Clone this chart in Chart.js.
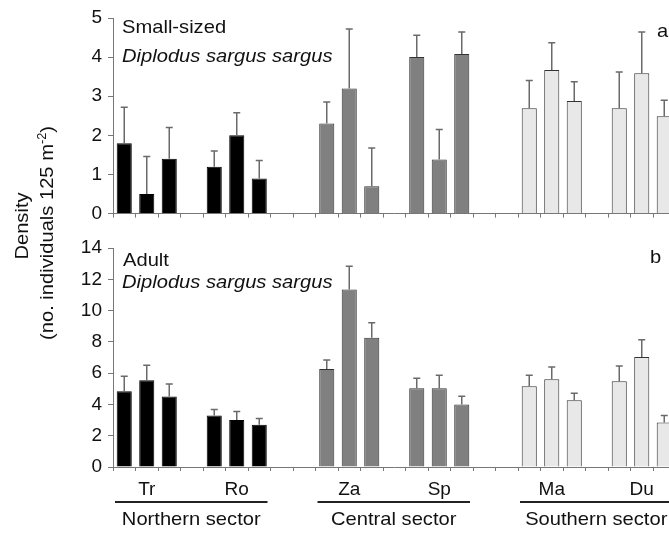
<!DOCTYPE html>
<html>
<head>
<meta charset="utf-8">
<script src="https://cdn.jsdelivr.net/npm/chart.js@4.4.1/dist/chart.umd.min.js"></script>
<style>
  html, body { margin: 0; padding: 0; background: #fff; overflow: hidden; }
  #wrap { position: relative; width: 669px; height: 533px; overflow: hidden; background: #fff; }
  canvas { position: absolute; left: 0; }
  .ylab {
    position: absolute; white-space: nowrap; color: #111;
    font: 19px 'Liberation Sans', Arial, sans-serif;
    transform: translate(-50%, -50%) rotate(-90deg) scaleX(1.06);
  }
  .ylab sup { font-size: 12px; line-height: 0; }
</style>
</head>
<body>
<div id="wrap">
  <canvas id="chart-small" width="700" height="231" style="top:0"></canvas>
  <canvas id="chart-adult" width="700" height="310" style="top:225px"></canvas>
  <div class="ylab" style="left:22px;top:226px">Density</div>
  <div class="ylab" style="left:47px;top:233px">(no. individuals 125 m<sup>-2</sup>)</div>
</div>
<script>
/* Diplodus sargus sargus density by site — two stacked bar panels. */

const siteLabels = ['Tr', 'Ro', 'Za', 'Sp', 'Ma', 'Du'];
const siteSector = [0, 0, 1, 1, 2, 2];
const gapsAfter = [1, 2, 1, 2, 1, 0];
const sectorNames = ['Northern sector', 'Central sector', 'Southern sector'];

// three bars per site, in site order
const smallMean = [1.8, 0.5, 1.4, 1.2, 2.0, 0.9, 2.3, 3.2, 0.7, 4.0, 1.38, 4.08, 2.69, 3.67, 2.88, 2.69, 3.59, 2.49];
const smallErr = [0.92, 0.96, 0.8, 0.4, 0.58, 0.46, 0.55, 1.52, 0.98, 0.56, 0.77, 0.56, 0.71, 0.7, 0.49, 0.93, 1.05, 0.41];
const adultMean = [4.84, 5.55, 4.5, 3.3, 3.0, 2.7, 6.26, 11.35, 8.26, 5.03, 5.03, 4.0, 5.16, 5.61, 4.26, 5.48, 7.03, 2.84];
const adultErr = [0.96, 0.95, 0.8, 0.37, 0.55, 0.4, 0.58, 1.49, 0.96, 0.65, 0.84, 0.52, 0.71, 0.78, 0.45, 0.97, 1.1, 0.45];

const smallTicks = [0, 1, 2, 3, 4, 5];
const adultTicks = [0, 2, 4, 6, 8, 10, 12, 14];

const FONT = "'Liberation Sans', Arial, sans-serif";
const INK = '#111';
const AXIS = '#777';
const FILL = ['#000000', '#808080', '#e8e8e8'];
const EDGE = ['#000000', '#333333', '#333333'];
const STRETCH = 1.06;

// category slots: 3 bars per site, then empty gap slots
const categories = [];
const slotBar = [];
const sectorSpan = [[null, null], [null, null], [null, null]];
siteLabels.forEach((s, i) => {
  for (let k = 0; k < 3; k++) {
    const sec = sectorSpan[siteSector[i]];
    if (sec[0] === null) sec[0] = categories.length;
    sec[1] = categories.length;
    categories.push(k === 1 ? s : '');
    slotBar.push(i * 3 + k);
  }
  for (let g = 0; g < gapsAfter[i]; g++) { categories.push(''); slotBar.push(null); }
});
const barSector = (b) => siteSector[Math.floor(b / 3)];

const errorBars = {
  id: 'errorBars',
  afterDatasetsDraw(chart, args, opts) {
    const { ctx } = chart;
    const y = chart.scales.y;
    const meta = chart.getDatasetMeta(0);
    ctx.save();
    ctx.strokeStyle = '#6a6a6a';
    ctx.lineWidth = 1.5;
    meta.data.forEach((el, i) => {
      const b = slotBar[i];
      if (b === null) return;
      const top = y.getPixelForValue(opts.means[b] + opts.errs[b]);
      ctx.beginPath();
      ctx.moveTo(el.x, el.y);
      ctx.lineTo(el.x, top);
      ctx.moveTo(el.x - 3.5, top);
      ctx.lineTo(el.x + 3.5, top);
      ctx.stroke();
    });
    ctx.restore();
  },
};

// slightly wide text, like the scanned figure
function wideText(ctx, text, x, y, align) {
  ctx.save();
  ctx.translate(x, y);
  ctx.scale(STRETCH, 1);
  ctx.textAlign = align;
  ctx.fillText(text, 0, 0);
  ctx.restore();
}

const panelText = {
  id: 'panelText',
  afterDraw(chart, args, opts) {
    const { ctx } = chart;
    ctx.save();
    ctx.fillStyle = INK;
    ctx.textBaseline = 'alphabetic';
    (opts.items || []).forEach(t => {
      ctx.font = (t.italic ? 'italic ' : '') + '19px ' + FONT;
      wideText(ctx, t.text, t.x, t.y, 'left');
    });
    if (opts.sectors) {
      const x = chart.scales.x;
      const slot = x.getPixelForValue(1) - x.getPixelForValue(0);
      ctx.strokeStyle = '#222';
      ctx.lineWidth = 2;
      ctx.font = '19px ' + FONT;
      sectorSpan.forEach((sp, i) => {
        const x1 = x.getPixelForValue(sp[0]) - slot / 2 + 2;
        const x2 = x.getPixelForValue(sp[1]) + slot / 2 - 3;
        ctx.beginPath();
        ctx.moveTo(x1, opts.lineY);
        ctx.lineTo(x2, opts.lineY);
        ctx.stroke();
        wideText(ctx, sectorNames[i], (x1 + x2) / 2, opts.textY, 'center');
      });
    }
    ctx.restore();
  },
};

function makePanel(id, means, errs, ticks, cfg) {
  const data = slotBar.map(b => (b === null ? null : means[b]));
  return new Chart(document.getElementById(id), {
    type: 'bar',
    data: {
      labels: categories,
      datasets: [{
        data,
        backgroundColor: slotBar.map(b => (b === null ? 'transparent' : FILL[barSector(b)])),
        borderColor: slotBar.map(b => (b === null ? 'transparent' : EDGE[barSector(b)])),
        borderWidth: 1,
        categoryPercentage: 1,
        barPercentage: 0.67,
      }],
    },
    options: {
      responsive: false,
      animation: false,
      layout: { padding: { top: cfg.top, right: 24.5, left: 0, bottom: 0 } },
      plugins: {
        legend: { display: false },
        tooltip: { enabled: false },
        errorBars: { means, errs },
        panelText: cfg.text,
      },
      scales: {
        x: {
          offset: true,
          grid: { offset: true, drawOnChartArea: false, drawTicks: true, tickLength: 4, color: AXIS },
          border: { color: AXIS, width: 1 },
          ticks: {
            autoSkip: false, maxRotation: 0, padding: 7,
            color: INK, font: { family: FONT, size: 19 },
            callback: (v, i) => (cfg.showLabels ? categories[i] : ''),
          },
          afterFit: (s) => { s.height = cfg.xHeight; },
        },
        y: {
          min: ticks[0],
          max: ticks[ticks.length - 1],
          grid: { drawOnChartArea: false, drawTicks: true, tickLength: 5, color: AXIS },
          border: { color: AXIS, width: 1 },
          ticks: { stepSize: ticks[1] - ticks[0], padding: 6, color: INK, font: { family: FONT, size: 19 } },
          afterFit: (s) => { s.width = 113; },
        },
      },
    },
    plugins: [errorBars, panelText],
  });
}

makePanel('chart-small', smallMean, smallErr, smallTicks, {
  top: 18, xHeight: 12, showLabels: false,
  text: { items: [
    { text: 'Small-sized', x: 122, y: 33 },
    { text: 'Diplodus sargus sargus', x: 122, y: 62, italic: true },
    { text: 'a', x: 657, y: 37 },
  ] },
});

makePanel('chart-adult', adultMean, adultErr, adultTicks, {
  top: 23, xHeight: 68, showLabels: true,
  text: {
    items: [
      { text: 'Adult', x: 123, y: 41 },
      { text: 'Diplodus sargus sargus', x: 122, y: 63, italic: true },
      { text: 'b', x: 650, y: 38 },
    ],
    sectors: true, lineY: 277, textY: 300,
  },
});
</script>
</body>
</html>
